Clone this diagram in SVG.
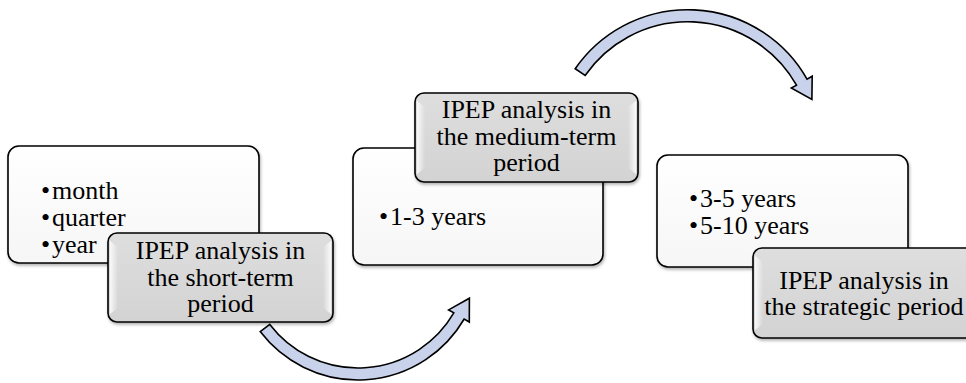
<svg xmlns="http://www.w3.org/2000/svg" width="966" height="383" viewBox="0 0 966 383">
  <defs>
    <linearGradient id="gWhite" x1="0" y1="0" x2="0" y2="1">
      <stop offset="0" stop-color="#ffffff"/>
      <stop offset="1" stop-color="#f6f6f6"/>
    </linearGradient>
    <linearGradient id="gGray" x1="0" y1="0" x2="0" y2="1">
      <stop offset="0" stop-color="#dedede"/>
      <stop offset="1" stop-color="#d3d3d3"/>
    </linearGradient>
    <linearGradient id="gBevL" x1="0" y1="0" x2="1" y2="0">
      <stop offset="0" stop-color="#ffffff" stop-opacity="0.85"/>
      <stop offset="1" stop-color="#ffffff" stop-opacity="0"/>
    </linearGradient>
    <linearGradient id="gBevR" x1="1" y1="0" x2="0" y2="0">
      <stop offset="0" stop-color="#ffffff" stop-opacity="0.85"/>
      <stop offset="1" stop-color="#ffffff" stop-opacity="0"/>
    </linearGradient>
    <filter id="shadow" x="-10%" y="-10%" width="120%" height="130%">
      <feDropShadow dx="1" dy="2" stdDeviation="1.5" flood-color="#000" flood-opacity="0.3"/>
    </filter>
  </defs>
  <style>
    .wbox { fill: url(#gWhite); stroke: #000; stroke-width: 1.6; filter: url(#shadow); }
    .gbox { fill: url(#gGray); stroke: #000; stroke-width: 1.6; filter: url(#shadow); }
    .bevl { fill: url(#gBevL); }
    .bevr { fill: url(#gBevR); }
    .t { font-family: 'Liberation Serif', 'DejaVu Serif', serif; font-size: 26px; fill: #000; }
    .c { text-anchor: middle; }
    .arrow { fill: #c8d2ea; stroke: #000; stroke-width: 1.6; stroke-linejoin: miter; }
  </style>

  <g id="connectors">
    <path class="arrow" d="M 260.2,331.6 A 123 123 0 0 0 464.2,319 L 469.3,322 L 469.4,298.2 L 448.6,309.9 L 453.8,312.9 A 111 111 0 0 1 269.8,324.4 Z"/>
    <path class="arrow" d="M 575.2,68.7 A 137 137 0 0 1 807,79.1 L 812.2,76.2 L 811.9,99.4 L 791.3,88 L 796.5,85.1 A 125 125 0 0 0 585.1,75.5 Z"/>
  </g>

  <g id="node-short-list">
    <rect class="wbox" x="8" y="146" width="251" height="117" rx="11"/>
    <text class="t" x="41" y="199">•</text><text class="t" x="52" y="199">month</text>
    <text class="t" x="41" y="226">•</text><text class="t" x="52" y="226">quarter</text>
    <text class="t" x="41" y="253">•</text><text class="t" x="52" y="253">year</text>
  </g>
  <g id="node-short-title">
    <rect class="gbox" x="108" y="233" width="225" height="89" rx="9"/>
    <polygon class="bevl" points="110,241 118,247 118,308 110,314"/>
    <polygon class="bevr" points="331,241 323,247 323,308 331,314"/>
    <text class="t c" x="220.5" y="259">IPEP analysis in</text>
    <text class="t c" x="220.5" y="285.5">the short-term</text>
    <text class="t c" x="220.5" y="312">period</text>
  </g>

  <g id="node-medium-list">
    <rect class="wbox" x="353" y="148" width="250" height="117" rx="11"/>
    <text class="t" x="379" y="225">•</text><text class="t" x="390" y="225">1-3 years</text>
  </g>
  <g id="node-medium-title">
    <rect class="gbox" x="415" y="93" width="223" height="89" rx="9"/>
    <polygon class="bevl" points="417,101 425,107 425,168 417,174"/>
    <polygon class="bevr" points="636,101 628,107 628,168 636,174"/>
    <text class="t c" x="526.5" y="118">IPEP analysis in</text>
    <text class="t c" x="526.5" y="144.5">the medium-term</text>
    <text class="t c" x="526.5" y="171">period</text>
  </g>

  <g id="node-strategic-list">
    <rect class="wbox" x="657" y="155" width="251" height="112" rx="11"/>
    <text class="t" x="689" y="207">•</text><text class="t" x="700" y="207">3-5 years</text>
    <text class="t" x="689" y="234">•</text><text class="t" x="700" y="234">5-10 years</text>
  </g>
  <g id="node-strategic-title">
    <rect class="gbox" x="753" y="248" width="223" height="90" rx="9"/>
    <polygon class="bevl" points="755,256 763,262 763,324 755,330"/>
    <polygon class="bevr" points="974,256 966,262 966,324 974,330"/>
    <text class="t c" x="864" y="288.5">IPEP analysis in</text>
    <text class="t c" x="864" y="315">the strategic period</text>
  </g>
</svg>
